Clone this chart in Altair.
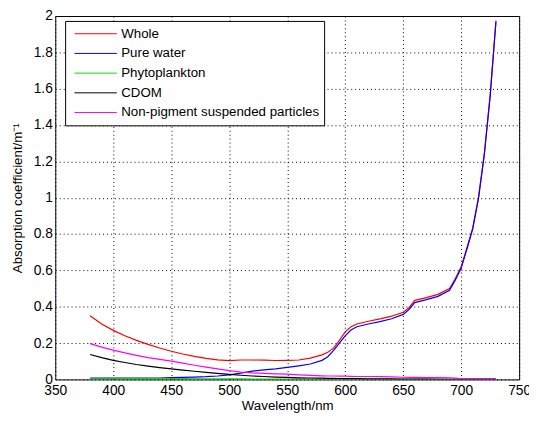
import altair as alt
import pandas as pd

wavelength = [380, 390, 400, 410, 420, 430, 440, 450, 460, 470, 480, 490, 500, 510, 520,
              530, 540, 550, 560, 570, 580, 585, 590, 595, 600, 605, 610, 620, 630, 640,
              650, 655, 660, 670, 680, 690, 695, 700, 705, 710, 715, 720, 725, 730]

whole = [0.350, 0.305, 0.270, 0.240, 0.215, 0.193, 0.173, 0.155, 0.140, 0.127, 0.116, 0.108,
         0.103, 0.107, 0.107, 0.106, 0.104, 0.105, 0.107, 0.117, 0.135,
         0.150, 0.172, 0.215, 0.262, 0.290, 0.305,
         0.320, 0.333, 0.348, 0.370,
         0.395, 0.435,
         0.450, 0.468, 0.500,
         0.555, 0.620, 0.725, 0.835, 1.005, 1.245, 1.565, 1.975]

pure_water = [0.007, 0.007, 0.007, 0.007, 0.007, 0.008, 0.008, 0.010, 0.011, 0.013, 0.015, 0.019,
              0.025, 0.035, 0.046, 0.053, 0.058, 0.066, 0.075, 0.085, 0.105,
              0.125, 0.160, 0.200, 0.240, 0.272, 0.290,
              0.305, 0.318, 0.334, 0.358,
              0.385, 0.423,
              0.439, 0.457, 0.490,
              0.548, 0.612, 0.718, 0.828, 0.998, 1.238, 1.558, 1.968]

phytoplankton = [0.003, 0.003, 0.003, 0.004, 0.004, 0.004, 0.004, 0.004, 0.004, 0.003, 0.003, 0.003,
                 0.003, 0.003, 0.002, 0.002, 0.002, 0.002, 0.002, 0.002, 0.002,
                 0.002, 0.002, 0.002, 0.002, 0.002, 0.002,
                 0.001, 0.001, 0.001, 0.001,
                 0.001, 0.002,
                 0.002, 0.002, 0.001,
                 0.001, 0.000, 0.000, 0.000, 0.000, 0.000, 0.000, 0.000]

cdom = [0.137, 0.120, 0.105, 0.093, 0.082, 0.073, 0.065, 0.058, 0.051, 0.045, 0.039, 0.033,
        0.028, 0.023, 0.019, 0.016, 0.013, 0.011, 0.009, 0.008, 0.007,
        0.006, 0.006, 0.005, 0.005, 0.004, 0.004,
        0.003, 0.003, 0.003, 0.002,
        0.002, 0.002,
        0.002, 0.001, 0.001,
        0.001, 0.001, 0.001, 0.001, 0.001, 0.001, 0.001, 0.001]

nap = [0.197, 0.178, 0.161, 0.146, 0.132, 0.120, 0.110, 0.101, 0.090, 0.078, 0.068, 0.058,
       0.048, 0.041, 0.036, 0.033, 0.031, 0.029, 0.025, 0.022, 0.020,
       0.019, 0.019, 0.018, 0.018, 0.017, 0.016,
       0.016, 0.015, 0.014, 0.012,
       0.011, 0.011,
       0.010, 0.010, 0.009,
       0.007, 0.005, 0.005, 0.005, 0.004, 0.004, 0.004, 0.004]

series_names = ["Whole", "Pure water", "Phytoplankton", "CDOM",
                "Non-pigment suspended particles"]
series_values = [whole, pure_water, phytoplankton, cdom, nap]
series_colors = ["#ff0000", "#0000ff", "#00dd00", "#000000", "#ff00ff"]

x_ticks = [350, 400, 450, 500, 550, 600, 650, 700, 750]
y_ticks = [0, 0.2, 0.4, 0.6, 0.8, 1.0, 1.2, 1.4, 1.6, 1.8, 2.0]

rows = []
for name, vals in zip(series_names, series_values):
    for w, v in zip(wavelength, vals):
        rows.append({"wl": w, "val": v, "series": name})
df = pd.DataFrame(rows)

FONT = "Liberation Sans, Arial, Helvetica, sans-serif"

x_enc = alt.X("wl:Q", scale=alt.Scale(domain=[350, 750], nice=False, zero=False),
              axis=alt.Axis(values=x_ticks, format="d", title="Wavelength/nm",
                            labelPadding=4, titlePadding=2, labelFlush=False))
y_enc = alt.Y("val:Q", scale=alt.Scale(domain=[0, 2], nice=False, zero=True),
              axis=alt.Axis(values=y_ticks, format="~g",
                            title="Absorption coefficient/m\u207b\u00b9",
                            labelPadding=3, titlePadding=9, labelFlush=False))
color_enc = alt.Color("series:N",
                      scale=alt.Scale(domain=series_names, range=series_colors),
                      legend=alt.Legend(title=None, orient="none", legendX=10, legendY=5,
                                        padding=4, fillColor="white", strokeColor="black",
                                        symbolType="stroke", symbolSize=43 * 43,
                                        symbolStrokeWidth=1, labelFontSize=13.5,
                                        labelFont=FONT, labelOffset=4, clipHeight=18,
                                        rowPadding=2, symbolOffset=5, labelLimit=400,
                                        labelColor="#000"))

layers = []
for name in series_names:
    layers.append(
        alt.Chart(df).transform_filter(alt.datum.series == name)
        .mark_line(strokeWidth=1.2, clip=True)
        .encode(x=x_enc, y=y_enc, color=color_enc)
    )

chart = alt.layer(*layers).properties(
    width=471, height=369,
    autosize=alt.AutoSizeParams(type="none"),
    padding={"left": 48, "top": 5, "right": 10, "bottom": 34},
).configure_view(
    stroke="black", strokeWidth=1
).configure_axis(
    grid=True, gridColor="#000", gridDash=[1, 3], gridWidth=1, gridOpacity=1,
    domain=False, ticks=False,
    labelFont=FONT, labelFontSize=14, labelColor="#000",
    titleFont=FONT, titleFontSize=13.5, titleFontWeight="normal", titleColor="#000",
)

chart.save("out.html", embed_options={"renderer": "svg", "actions": False})
